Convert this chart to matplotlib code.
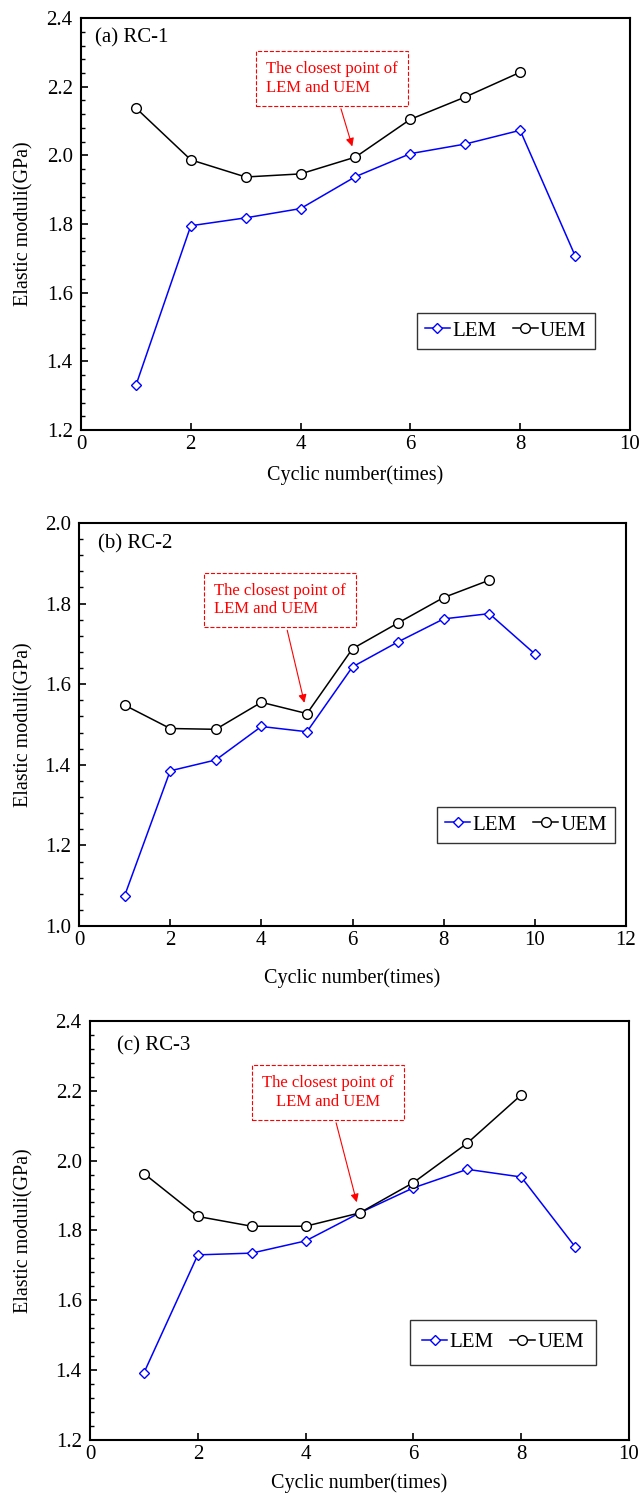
import matplotlib
matplotlib.use('Agg')
from matplotlib import pyplot as plt
from matplotlib.ticker import MultipleLocator

plt.rcParams['font.family'] = ['Liberation Serif', 'DejaVu Serif']

# 데이터
lem_a = [1.330, 1.795, 1.818, 1.845, 1.938, 2.005, 2.033, 2.073, 1.708]
uem_a = [2.138, 1.987, 1.937, 1.946, 1.995, 2.105, 2.170, 2.242]

lem_b = [1.075, 1.385, 1.412, 1.495, 1.482, 1.643, 1.705, 1.762, 1.775, 1.675]
uem_b = [1.548, 1.490, 1.488, 1.555, 1.527, 1.688, 1.752, 1.815, 1.858]

lem_c = [1.392, 1.730, 1.735, 1.770, 1.850, 1.922, 1.975, 1.953, 1.753]
uem_c = [1.963, 1.840, 1.812, 1.812, 1.850, 1.937, 2.050, 2.188]

panel_labels = ['(a) RC-1', '(b) RC-2', '(c) RC-3']
note = 'The closest point of\nLEM and UEM'

fig = plt.figure(figsize=(6.42, 15.04), dpi=100)

# 축 위치 (fig 비율)
rects = [[0.1262, 0.7141, 0.855, 0.2739],
         [0.1231, 0.3843, 0.852, 0.268],
         [0.1402, 0.0426, 0.8396, 0.2786]]
xlims = [(0, 10), (0, 12), (0, 10)]
ylims = [(1.2, 2.4), (1.0, 2.0), (1.2, 2.4)]
datas = [(lem_a, uem_a), (lem_b, uem_b), (lem_c, uem_c)]
note_xy = [(4.57, 2.224), (4.41, 1.809), (4.42, 2.195)]
note_align = ['left', 'left', 'center']
label_xy = [(0.0255, 0.953), (0.035, 0.948), (0.05, 0.941)]
leg_anchor = [(0.936, 0.197), (0.98, 0.206), (0.939, 0.18)]
leg_pad = [0.4, 0.4, 0.6]
ylab_x = [-0.087, -0.083, -0.105]
xlab_pad = [8, 13, 7]

for i in range(3):
    ax = fig.add_axes(rects[i])
    lem, uem = datas[i]
    x_lem = list(range(1, len(lem) + 1))
    x_uem = list(range(1, len(uem) + 1))
    ax.plot(x_lem, lem, color='#0000ff', lw=1.1, marker='D', ms=5.5,
            mfc='white', mec='#0000ff', mew=1.0, label='LEM')
    ax.plot(x_uem, uem, color='black', lw=1.1, marker='o', ms=7,
            mfc='white', mec='black', mew=1.0, label='UEM')

    ax.set_xlim(*xlims[i])
    ax.set_ylim(*ylims[i])
    ax.xaxis.set_major_locator(MultipleLocator(2))
    ax.yaxis.set_major_locator(MultipleLocator(0.2))
    ax.yaxis.set_minor_locator(MultipleLocator(0.04))
    ax.yaxis.set_major_formatter(plt.FormatStrFormatter('%.1f'))
    ax.tick_params(direction='in', which='both', labelsize=15, top=False, right=False)
    ax.tick_params(which='major', length=5, width=1.2)
    ax.tick_params(axis='y', which='major', pad=6)
    ax.tick_params(which='minor', length=3, width=1.0)
    for s in ax.spines.values():
        s.set_linewidth(1.5)

    ax.set_xlabel('Cyclic number(times)', fontsize=14.5, labelpad=xlab_pad[i])
    ax.set_ylabel('Elastic moduli(GPa)', fontsize=14.5)
    ax.yaxis.set_label_coords(ylab_x[i], 0.5)

    ax.text(label_xy[i][0], label_xy[i][1], panel_labels[i], transform=ax.transAxes,
            fontsize=15, ha='left', va='center')

    ax.annotate(note, xy=(5, uem[4]), xytext=note_xy[i], textcoords='data',
                fontsize=12, color='red', ha='center', va='center',
                multialignment=note_align[i],
                bbox=dict(boxstyle='square,pad=0.6', fc='white', ec='red',
                          ls='--', lw=0.8),
                arrowprops=dict(arrowstyle='-|>', color='red', lw=0.8,
                                mutation_scale=12, shrinkB=8))

    leg = ax.legend(loc='lower right', bbox_to_anchor=leg_anchor[i], ncol=2,
                    fontsize=15, frameon=True, fancybox=False, edgecolor='black',
                    handlelength=1.2, handletextpad=0.1, columnspacing=0.8,
                    borderpad=leg_pad[i], borderaxespad=0)
    leg.get_frame().set_linewidth(1.0)

fig.savefig('out.png', dpi=100)
